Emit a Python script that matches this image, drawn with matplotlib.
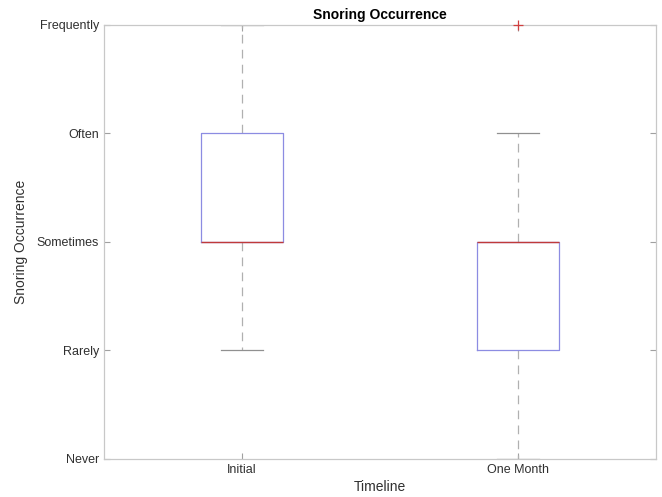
import matplotlib
matplotlib.use("Agg")
import matplotlib.pyplot as plt

plt.rcParams['font.family'] = ['Liberation Sans', 'DejaVu Sans']

groups = ["Initial", "One Month"]
levels = ["Never", "Rarely", "Sometimes", "Often", "Frequently"]

# box stats on the 1..5 scale (Never=1 ... Frequently=5)
whislo = [2, 1]
q1 = [3, 2]
med = [3, 3]
q3 = [4, 3]
whishi = [5, 4]
fliers = [[], [5]]

stats = []
for i, g in enumerate(groups):
    stats.append(dict(label=g, whislo=whislo[i], q1=q1[i], med=med[i],
                      q3=q3[i], whishi=whishi[i], fliers=fliers[i]))

fig = plt.figure(figsize=(6.62, 4.97), dpi=100)
ax = fig.add_axes([0.157, 0.0765, 0.834, 0.8735])

parts = ax.bxp(stats, positions=[1, 2], widths=0.3, showfliers=True,
               boxprops=dict(color='#8c8ce2', linewidth=0.9),
               medianprops=dict(color='#c03a3a', linewidth=1.0),
               whiskerprops=dict(color='#b0b0b0', linewidth=0.9,
                                 linestyle=(0, (7, 5))),
               capprops=dict(color='#909090', linewidth=0.9),
               capwidths=0.15,
               flierprops=dict(marker='+', markeredgecolor='#d04040',
                               markersize=7, markeredgewidth=0.9,
                               linestyle='none'))
for f in parts['fliers']:
    f.set_clip_on(False)
    f.set_zorder(5)
for b in parts['boxes']:
    b.set_zorder(3)
for m in parts['medians']:
    m.set_zorder(4)

ax.set_xlim(0.5, 2.5)
ax.set_ylim(1, 5)
ax.set_yticks(range(1, 6))
ax.set_yticklabels(levels)
ax.set_xticks([1, 2])
ax.set_xticklabels(groups)

for s in ax.spines.values():
    s.set_color('#c8c8c8')
    s.set_linewidth(0.9)
ax.tick_params(direction='in', length=4, color='#a0a0a0', labelsize=9,
               labelcolor='#303030', right=True, top=True)

ax.set_title("Snoring Occurrence", fontsize=10, fontweight='bold', pad=4)
ax.set_xlabel("Timeline", fontsize=10, color='#303030', labelpad=3)
ax.set_ylabel("Snoring Occurrence", fontsize=10, color='#303030', labelpad=6)

fig.savefig("out.png", dpi=100)
